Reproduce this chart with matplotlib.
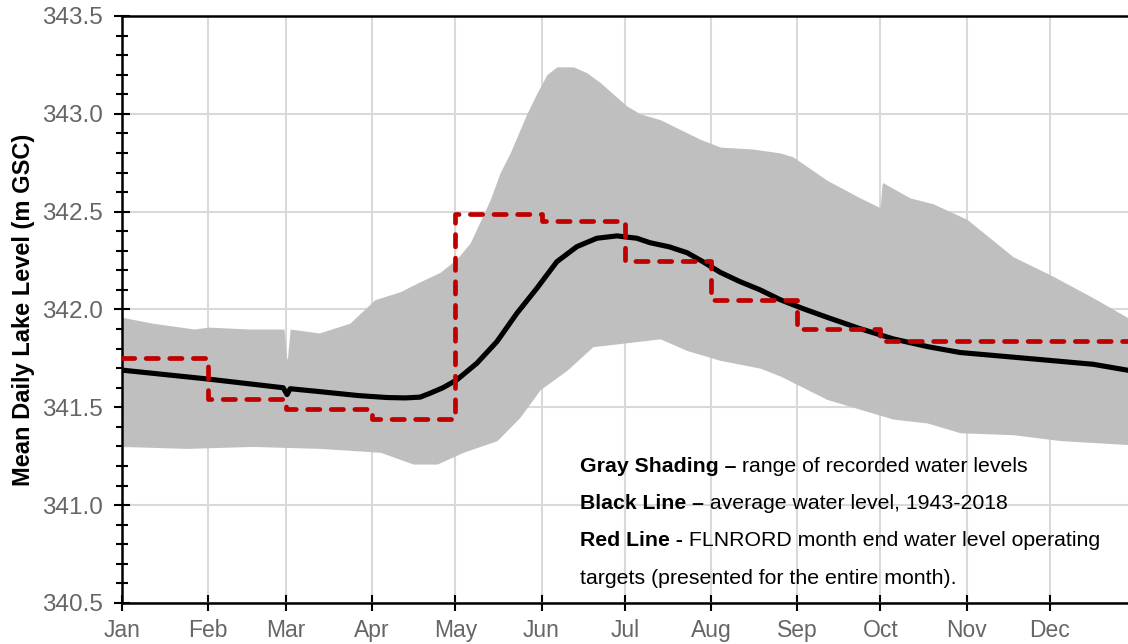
import numpy as np
import matplotlib.pyplot as plt
from matplotlib.ticker import MultipleLocator

plt.rcParams['font.family'] = ['Liberation Sans', 'DejaVu Sans']

# %% Data (day of year, lake level in m GSC)
upper_day = [0, 11, 26, 31, 46, 58.3, 59.4, 60.5, 71, 82, 91, 100, 107, 114.5, 120.6,
             125.3, 132.5, 136.1, 139.7, 143.3, 145.7, 149.3, 152.9, 156.5, 162.5, 167.3,
             172.1, 176.9, 181.7, 186.5, 193.7, 200.9, 208.1, 215.3, 227, 236.9, 241.5,
             253.8, 265.7, 272.9, 273.6, 283.7, 292, 304.2, 320.7, 335.1, 349.5, 361.8, 365]
upper_lvl = [341.96, 341.93, 341.90, 341.91, 341.90, 341.90, 341.73, 341.90, 341.88, 341.93,
             342.05, 342.09, 342.14, 342.19, 342.26, 342.34, 342.56, 342.70, 342.80, 342.92,
             343.00, 343.105, 343.20, 343.24, 343.24, 343.21, 343.16, 343.10, 343.04, 343.00,
             342.97, 342.92, 342.87, 342.83, 342.82, 342.80, 342.78, 342.66, 342.57, 342.52,
             342.65, 342.57, 342.54, 342.46, 342.27, 342.17, 342.06, 341.96, 341.95]

lower_day = [0, 23.4, 47, 71.3, 93, 104.8, 113.4, 122.8, 135, 143.3, 150.5, 160.2, 169.5,
             181.8, 193.7, 203.4, 215.3, 229.7, 236.9, 253.8, 277.5, 289.8, 301.7, 320.7,
             337.7, 361.8, 365]
lower_lvl = [341.30, 341.29, 341.30, 341.29, 341.27, 341.21, 341.21, 341.27, 341.33, 341.45,
             341.59, 341.69, 341.81, 341.83, 341.85, 341.79, 341.74, 341.70, 341.66, 341.54,
             341.44, 341.42, 341.37, 341.36, 341.33, 341.31, 341.31]

mean_day = [0, 30.6, 58, 59.4, 60.5, 71.3, 85, 95.4, 102, 107.3, 110.9, 115.5, 120.5, 127.7,
            134.9, 142.1, 149.3, 156.5, 163.7, 170.9, 178.1, 185.3, 190.1, 197, 203.4, 209,
            215.3, 222, 229.7, 236.9, 245, 253.8, 265, 277.5, 290, 301.7, 325.8, 349.5,
            361.8, 365]
mean_lvl = [341.69, 341.645, 341.60, 341.565, 341.595, 341.58, 341.56, 341.55, 341.548,
            341.552, 341.572, 341.60, 341.64, 341.725, 341.835, 341.98, 342.108, 342.244,
            342.321, 342.364, 342.376, 342.364, 342.341, 342.32, 342.29, 342.245, 342.19,
            342.145, 342.10, 342.05, 342.005, 341.96, 341.905, 341.85, 341.81, 341.78,
            341.75, 341.72, 341.69, 341.685]

month_start = [0, 31, 59, 90, 120, 151, 181, 212, 243, 273, 304, 334, 365]
month_names = ['Jan', 'Feb', 'Mar', 'Apr', 'May', 'Jun', 'Jul', 'Aug', 'Sep', 'Oct', 'Nov', 'Dec']
target_lvl = [341.75, 341.54, 341.49, 341.44, 342.49, 342.45, 342.25, 342.05, 341.90,
              341.84, 341.84, 341.84]

# %% Interpolate the envelope onto a common daily grid
days = np.linspace(0, 365, 1461)
upper = np.interp(days, upper_day, upper_lvl)
lower = np.interp(days, lower_day, lower_lvl)

# %% Plot
fig = plt.figure(figsize=(11.28, 6.44), dpi=100)
ax = fig.add_axes([0.1082, 0.0637, 0.8918, 0.9115])

ax.fill_between(days, lower, upper, color='#bfbfbf', linewidth=0, zorder=2)
ax.plot(mean_day, mean_lvl, color='black', linewidth=3.7, solid_capstyle='round',
        solid_joinstyle='round', zorder=3)
ax.step(month_start, target_lvl + [target_lvl[-1]], where='post', color='#c00000',
        linewidth=3.4, dashes=(2.6, 2.4), dash_capstyle='round', zorder=4)

ax.set_xlim(0, 362.1)
ax.set_ylim(340.5, 343.5)
ax.set_xticks(month_start[:-1])
ax.set_xticklabels(month_names)
ax.yaxis.set_major_locator(MultipleLocator(0.5))
ax.yaxis.set_minor_locator(MultipleLocator(0.1))
ax.yaxis.set_major_formatter(plt.FormatStrFormatter('%.1f'))

ax.grid(True, color='#d9d9d9', linewidth=1.5, zorder=0)
ax.set_axisbelow(True)
for side in ['left', 'bottom', 'top']:
    ax.spines[side].set_linewidth(1.8)
    ax.spines[side].set_color('black')
ax.spines['right'].set_visible(False)

ax.tick_params(axis='both', which='major', direction='inout', length=11, width=1.5,
               color='black', labelcolor='#666666')
ax.tick_params(axis='y', which='minor', direction='inout', length=8, width=1.5, color='black')
ax.tick_params(axis='x', labelsize=16.5, pad=6)
ax.tick_params(axis='y', labelsize=17.5, pad=8)

ax.set_ylabel('Mean Daily Lake Level (m GSC)', fontsize=17, fontweight='bold', labelpad=5)

# %% Explanatory notes with bold lead-ins
notes = [
    ('Gray Shading \u2013', ' range of recorded water levels'),
    ('Black Line \u2013', ' average water level, 1943-2018'),
    ('Red Line -', ' FLNRORD month end water level operating'),
    ('', 'targets (presented for the entire month).'),
]
fig.canvas.draw()
renderer = fig.canvas.get_renderer()
y0 = 1 - 466 / 644
for i, (bold, rest) in enumerate(notes):
    y = y0 - i * 37.5 / 644
    x = 580 / 1128
    if bold:
        t = fig.text(x, y, bold, fontsize=15.3, fontweight='bold', va='center', ha='left')
        bb = t.get_window_extent(renderer)
        x = bb.x1 / fig.bbox.width
    fig.text(x, y, rest, fontsize=15.3, va='center', ha='left')

fig.savefig('out.png', dpi=100)
plt.close()
